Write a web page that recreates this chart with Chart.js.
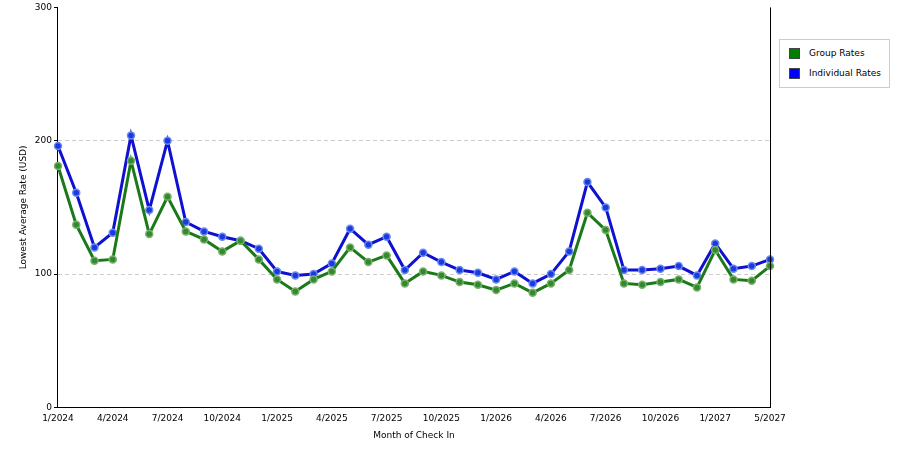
<!DOCTYPE html>
<html><head><meta charset="utf-8">
<script src="https://cdn.jsdelivr.net/npm/chart.js@4"></script>
<style>
body{margin:0;background:#fff;font-family:"DejaVu Sans",sans-serif}
#wrap{position:relative;width:900px;height:450px}
#legend{position:absolute;left:779px;top:39px;width:109px;height:47px;border:1px solid #ccc;font-size:9px;background:#fff}
#legend div{display:flex;align-items:center;height:14px;margin:6px 0 0 9px}
#legend span{display:inline-block;width:11px;height:11px;margin-right:9px;border:1px solid #444;box-sizing:border-box}
</style></head><body>
<div id="wrap"><canvas id="c" width="900" height="450"></canvas>
<div id="legend"><div><span style="background:#008000"></span>Group Rates</div><div><span style="background:#0000ff"></span>Individual Rates</div></div></div>
<script>
const months = ["1/2024","","","4/2024","","","7/2024","","","10/2024","","","1/2025","","","4/2025","","","7/2025","","","10/2025","","","1/2026","","","4/2026","","","7/2026","","","10/2026","","","1/2027","","","5/2027"];
const groupRates = [181,137,110,111,185,130,158,132,126,117,125,111,96,87,96,102,120,109,114,93,102,99,94,92,88,93,86,93,103,146,133,93,92,94,96,90,118,96,95,106];
const individualRates = [196,161,120,131,204,148,200,139,132,128,125,119,102,99,100,108,134,122,128,103,116,109,103,101,96,102,93,100,117,169,150,103,103,104,106,99,123,104,106,111];
const yTicks = [0,100,200,300];
Chart.defaults.font.family = "DejaVu Sans";
Chart.defaults.font.size = 9;
Chart.defaults.color = "#000";
const frame = {id:'frame',afterDraw(ch){const {ctx,chartArea:a}=ch;ctx.save();ctx.strokeStyle='#000';ctx.lineWidth=1;ctx.beginPath();ctx.moveTo(Math.round(a.right)+0.5,a.top);ctx.lineTo(Math.round(a.right)+0.5,a.bottom);ctx.stroke();ctx.restore();}};
new Chart(document.getElementById('c'), {
  type:'line',
  data:{labels:months,datasets:[
    {label:'Group Rates',data:groupRates,borderColor:'#1a7a1a',backgroundColor:'#2e8b2e',pointBorderColor:'#7cae6c',borderWidth:3,pointRadius:3.5,pointBorderWidth:1.5,tension:0},
    {label:'Individual Rates',data:individualRates,borderColor:'#1010d0',backgroundColor:'#1a3ae0',pointBorderColor:'#6a8af0',borderWidth:3,pointRadius:3.5,pointBorderWidth:1.5,tension:0}
  ]},
  options:{responsive:false,animation:false,
    layout:{padding:{left:14,right:130,top:0,bottom:5}},
    plugins:{legend:{display:false},tooltip:{enabled:false}},
    scales:{
      x:{offset:false,grid:{display:false,drawTicks:true,tickLength:4},border:{color:'#000'},
         ticks:{autoSkip:false,maxRotation:0,padding:2},
         title:{display:true,text:'Month of Check In',padding:{top:4}}},
      y:{min:0,max:300,afterBuildTicks:a=>{a.ticks=yTicks.map(v=>({value:v}));},
         grid:{color:c=>(c.tick&&(c.tick.value===100||c.tick.value===200))?'#ccc':'rgba(0,0,0,0)',tickLength:4,tickColor:'#000'},border:{color:'#000',dash:[4,3]},
         ticks:{padding:2},
         title:{display:true,text:'Lowest Average Rate (USD)'}}
    }},
  plugins:[frame]
});
</script></body></html>
